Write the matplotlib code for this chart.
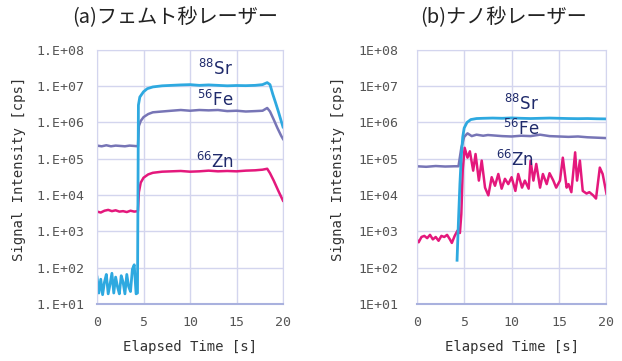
import matplotlib.pyplot as plt

# (a) femtosecond laser
fs_sr_t = [0.0, 0.2, 0.4, 0.6, 0.8, 1.0, 1.2, 1.4, 1.6, 1.8, 2.0, 2.2, 2.4, 2.6, 2.8, 3.0, 3.2, 3.4, 3.6, 3.8, 4.0, 4.2,
           4.35, 4.45, 4.6, 5.0, 5.4, 6.0, 7, 8, 9, 10, 11, 12, 13, 14, 15, 16, 17,
           17.8, 18.3, 18.6, 18.9, 19.2, 19.5, 19.8, 20.0]
fs_sr = [55, 20, 48, 18, 40, 65, 19, 35, 70, 20, 55, 30, 19, 60, 40, 19, 65, 30, 22, 90, 120, 19,
         20, 3e6, 5e6, 7e6, 8.5e6, 9.5e6, 1.02e7, 1.05e7, 1.08e7, 1.1e7, 1.05e7, 1.08e7, 1.05e7, 1.02e7, 1.04e7, 1.03e7, 1.05e7,
         1.1e7, 1.25e7, 1.1e7, 6e6, 3.5e6, 2e6, 1.1e6, 7.5e5]
fs_fe_t = [0, 0.5, 1, 1.5, 2, 2.5, 3, 3.5, 4, 4.4, 4.5, 4.7, 5.0, 5.5, 6, 7, 8, 9, 10, 11, 12, 13, 14, 15, 16, 17,
           17.8, 18.3, 18.6, 19.0, 19.4, 19.8, 20.0]
fs_fe = [2.3e5, 2.2e5, 2.35e5, 2.2e5, 2.3e5, 2.25e5, 2.2e5, 2.3e5, 2.25e5, 2.2e5,
         8e5, 1.1e6, 1.4e6, 1.7e6, 1.9e6, 2.0e6, 2.1e6, 2.2e6, 2.1e6, 2.2e6, 2.15e6, 2.2e6, 2.05e6, 2.1e6, 2.0e6, 2.05e6,
         2.1e6, 2.5e6, 2.0e6, 1.2e6, 7e5, 4.3e5, 3.5e5]
fs_zn_t = [0, 0.4, 0.8, 1.2, 1.6, 2.0, 2.4, 2.8, 3.2, 3.6, 4.0, 4.4, 4.5, 4.7, 5.0, 5.5, 6, 7, 8, 9, 10, 11, 12, 13, 14, 15, 16, 17,
           17.8, 18.3, 18.6, 19.0, 19.5, 20.0]
fs_zn = [3.5e3, 3.3e3, 3.7e3, 3.9e3, 3.6e3, 3.8e3, 3.5e3, 3.6e3, 3.4e3, 3.7e3, 3.5e3, 3.6e3,
         1.2e4, 2.2e4, 3.0e4, 3.7e4, 4.1e4, 4.4e4, 4.5e4, 4.6e4, 4.4e4, 4.5e4, 4.7e4, 4.5e4, 4.6e4, 4.5e4, 4.7e4, 4.8e4,
         5.0e4, 5.3e4, 4.0e4, 2.5e4, 1.3e4, 7e3]

# (b) nanosecond laser
ns_sr_t = [4.25, 4.4, 4.55, 4.7, 4.85, 5.0, 5.3, 5.7, 6.3, 7, 8, 9, 10, 11, 12, 13, 14, 15, 16, 17, 18, 19, 20]
ns_sr = [160, 2e3, 2e4, 1.2e5, 4e5, 7e5, 1.0e6, 1.2e6, 1.28e6, 1.3e6, 1.32e6, 1.3e6, 1.33e6, 1.3e6, 1.28e6,
         1.3e6, 1.32e6, 1.3e6, 1.28e6, 1.27e6, 1.28e6, 1.26e6, 1.25e6]
ns_fe_t = [0, 1, 2, 3, 4, 4.4, 4.7, 5.0, 5.35, 5.8, 6.3, 7, 7.5, 8, 9, 10, 11, 12, 13, 14, 15, 16, 17, 18, 19, 20]
ns_fe = [6.2e4, 6.0e4, 6.3e4, 6.1e4, 6.2e4, 6.2e4, 2e5, 4e5, 5e5, 4.2e5, 4.6e5, 4.3e5, 4.5e5, 4.4e5,
         4.2e5, 4.1e5, 4.3e5, 4.2e5, 4.6e5, 4.2e5, 4.1e5, 4.0e5, 4.1e5, 3.9e5, 3.8e5, 3.7e5]
ns_zn_t = [0, 0.2, 0.5, 0.8, 1.1, 1.4, 1.7, 2.0, 2.3, 2.6, 2.9, 3.2, 3.5, 3.7, 4.0, 4.3, 4.55, 4.7, 4.85, 5.05,
           5.35, 5.6, 5.95, 6.2, 6.55, 6.85, 7.2, 7.55, 7.9, 8.25, 8.6, 8.95, 9.3, 9.65, 10.0, 10.4, 10.7, 11.1, 11.4, 11.8,
           12.0, 12.3, 12.6, 13.0, 13.3, 13.7, 14.0, 14.4, 14.7, 15.1, 15.4, 15.8, 16.0, 16.3, 16.7, 16.9, 17.2, 17.5, 17.9, 18.2,
           18.6, 18.9, 19.3, 19.6, 20.0]
ns_zn = [600, 500, 700, 750, 650, 800, 600, 700, 550, 750, 700, 800, 600, 480, 750, 1050, 900, 3e3, 5e4, 2e5,
         1.07e5, 1.6e5, 4.7e4, 1.35e5, 2.5e4, 8.9e4, 1.6e4, 9.8e3, 3.1e4, 1.8e4, 3.8e4, 1.5e4, 2.8e4, 2e4, 3.1e4, 1.3e4,
         3.8e4, 1.6e4, 2.5e4, 1.5e4, 8.9e4, 2.5e4, 7.2e4, 1.6e4, 3.8e4, 2e4, 4e4, 2.5e4, 1.6e4, 2.5e4, 1.07e5, 1.6e4,
         2e4, 1.2e4, 1.5e5, 2.5e4, 8.9e4, 1.3e4, 1.1e4, 1.2e4, 9.8e3, 8e3, 5.7e4, 3.8e4, 1.1e4]

yticks = [1e1, 1e2, 1e3, 1e4, 1e5, 1e6, 1e7, 1e8]
fs_ylabels = ['1.E+01', '1.E+02', '1.E+03', '1.E+04', '1.E+05', '1.E+06', '1.E+07', '1.E+08']
ns_ylabels = ['1E+01', '1E+02', '1E+03', '1E+04', '1E+05', '1E+06', '1E+07', '1E+08']
xticks = [0, 5, 10, 15, 20]
titles = ['(a)フェムト秒レーザー', '(b)ナノ秒レーザー']

c_sr = '#2ea9e0'
c_fe = '#7775b6'
c_zn = '#e4187c'
c_lab = '#1f2a6b'
grid_c = '#d3d5ee'

fig = plt.figure(figsize=(6.22, 3.61), dpi=100)
ax1 = fig.add_axes([0.156, 0.158, 0.299, 0.704])
ax2 = fig.add_axes([0.670, 0.158, 0.305, 0.704])


def style(ax, ylabels, ypad):
    ax.set_yscale('log')
    ax.set_xlim(0, 20)
    ax.set_ylim(1e1, 1e8)
    ax.set_yticks(yticks)
    ax.set_yticklabels(ylabels)
    ax.minorticks_off()
    ax.set_xticks(xticks)
    ax.tick_params(length=0, labelsize=9.5, labelcolor='#555555')
    ax.tick_params(axis='y', pad=ypad)
    ax.tick_params(axis='x', pad=9)
    for lab in ax.get_xticklabels() + ax.get_yticklabels():
        lab.set_family('DejaVu Sans Mono')
    ax.grid(True, color=grid_c, lw=1)
    ax.set_axisbelow(True)
    for s in ax.spines.values():
        s.set_color(grid_c)
    ax.spines['bottom'].set_color('#a9b1de')
    ax.spines['bottom'].set_linewidth(1.5)
    ax.set_xlabel('Elapsed Time [s]', family='DejaVu Sans Mono', fontsize=10, color='#333333')
    ax.set_ylabel('Signal Intensity [cps]', family='DejaVu Sans Mono', fontsize=10, color='#333333')
    ax.xaxis.set_label_coords(0.5, -0.14)
    ax.yaxis.set_label_coords(-0.38, 0.53)


style(ax1, fs_ylabels, 9)
style(ax2, ns_ylabels, 13)

ax1.plot(fs_zn_t, fs_zn, color=c_zn, lw=1.8)
ax1.plot(fs_fe_t, fs_fe, color=c_fe, lw=1.8)
ax1.plot(fs_sr_t, fs_sr, color=c_sr, lw=2)

ax2.plot(ns_zn_t, ns_zn, color=c_zn, lw=1.8)
ax2.plot(ns_fe_t, ns_fe, color=c_fe, lw=1.8)
ax2.plot(ns_sr_t, ns_sr, color=c_sr, lw=2)

ax1.text(12.7, 3e7, r'$^{88}$Sr', color=c_lab, fontsize=12, ha='center', va='center')
ax1.text(12.7, 4.2e6, r'$^{56}$Fe', color=c_lab, fontsize=12, ha='center', va='center')
ax1.text(12.7, 8e4, r'$^{66}$Zn', color=c_lab, fontsize=12, ha='center', va='center')
ax2.text(11.0, 3.2e6, r'$^{88}$Sr', color=c_lab, fontsize=12, ha='center', va='center')
ax2.text(11.0, 6.6e5, r'$^{56}$Fe', color=c_lab, fontsize=12, ha='center', va='center')
ax2.text(10.4, 9e4, r'$^{66}$Zn', color=c_lab, fontsize=12, ha='center', va='center')

fig.text(0.281, 0.95, titles[0], family=['Noto Sans CJK JP', 'DejaVu Sans'], fontsize=14.5,
         ha='center', va='center', color='#222222')
fig.text(0.81, 0.95, titles[1], family=['Noto Sans CJK JP', 'DejaVu Sans'], fontsize=14.5,
         ha='center', va='center', color='#222222')

fig.savefig('out.png', dpi=100)
